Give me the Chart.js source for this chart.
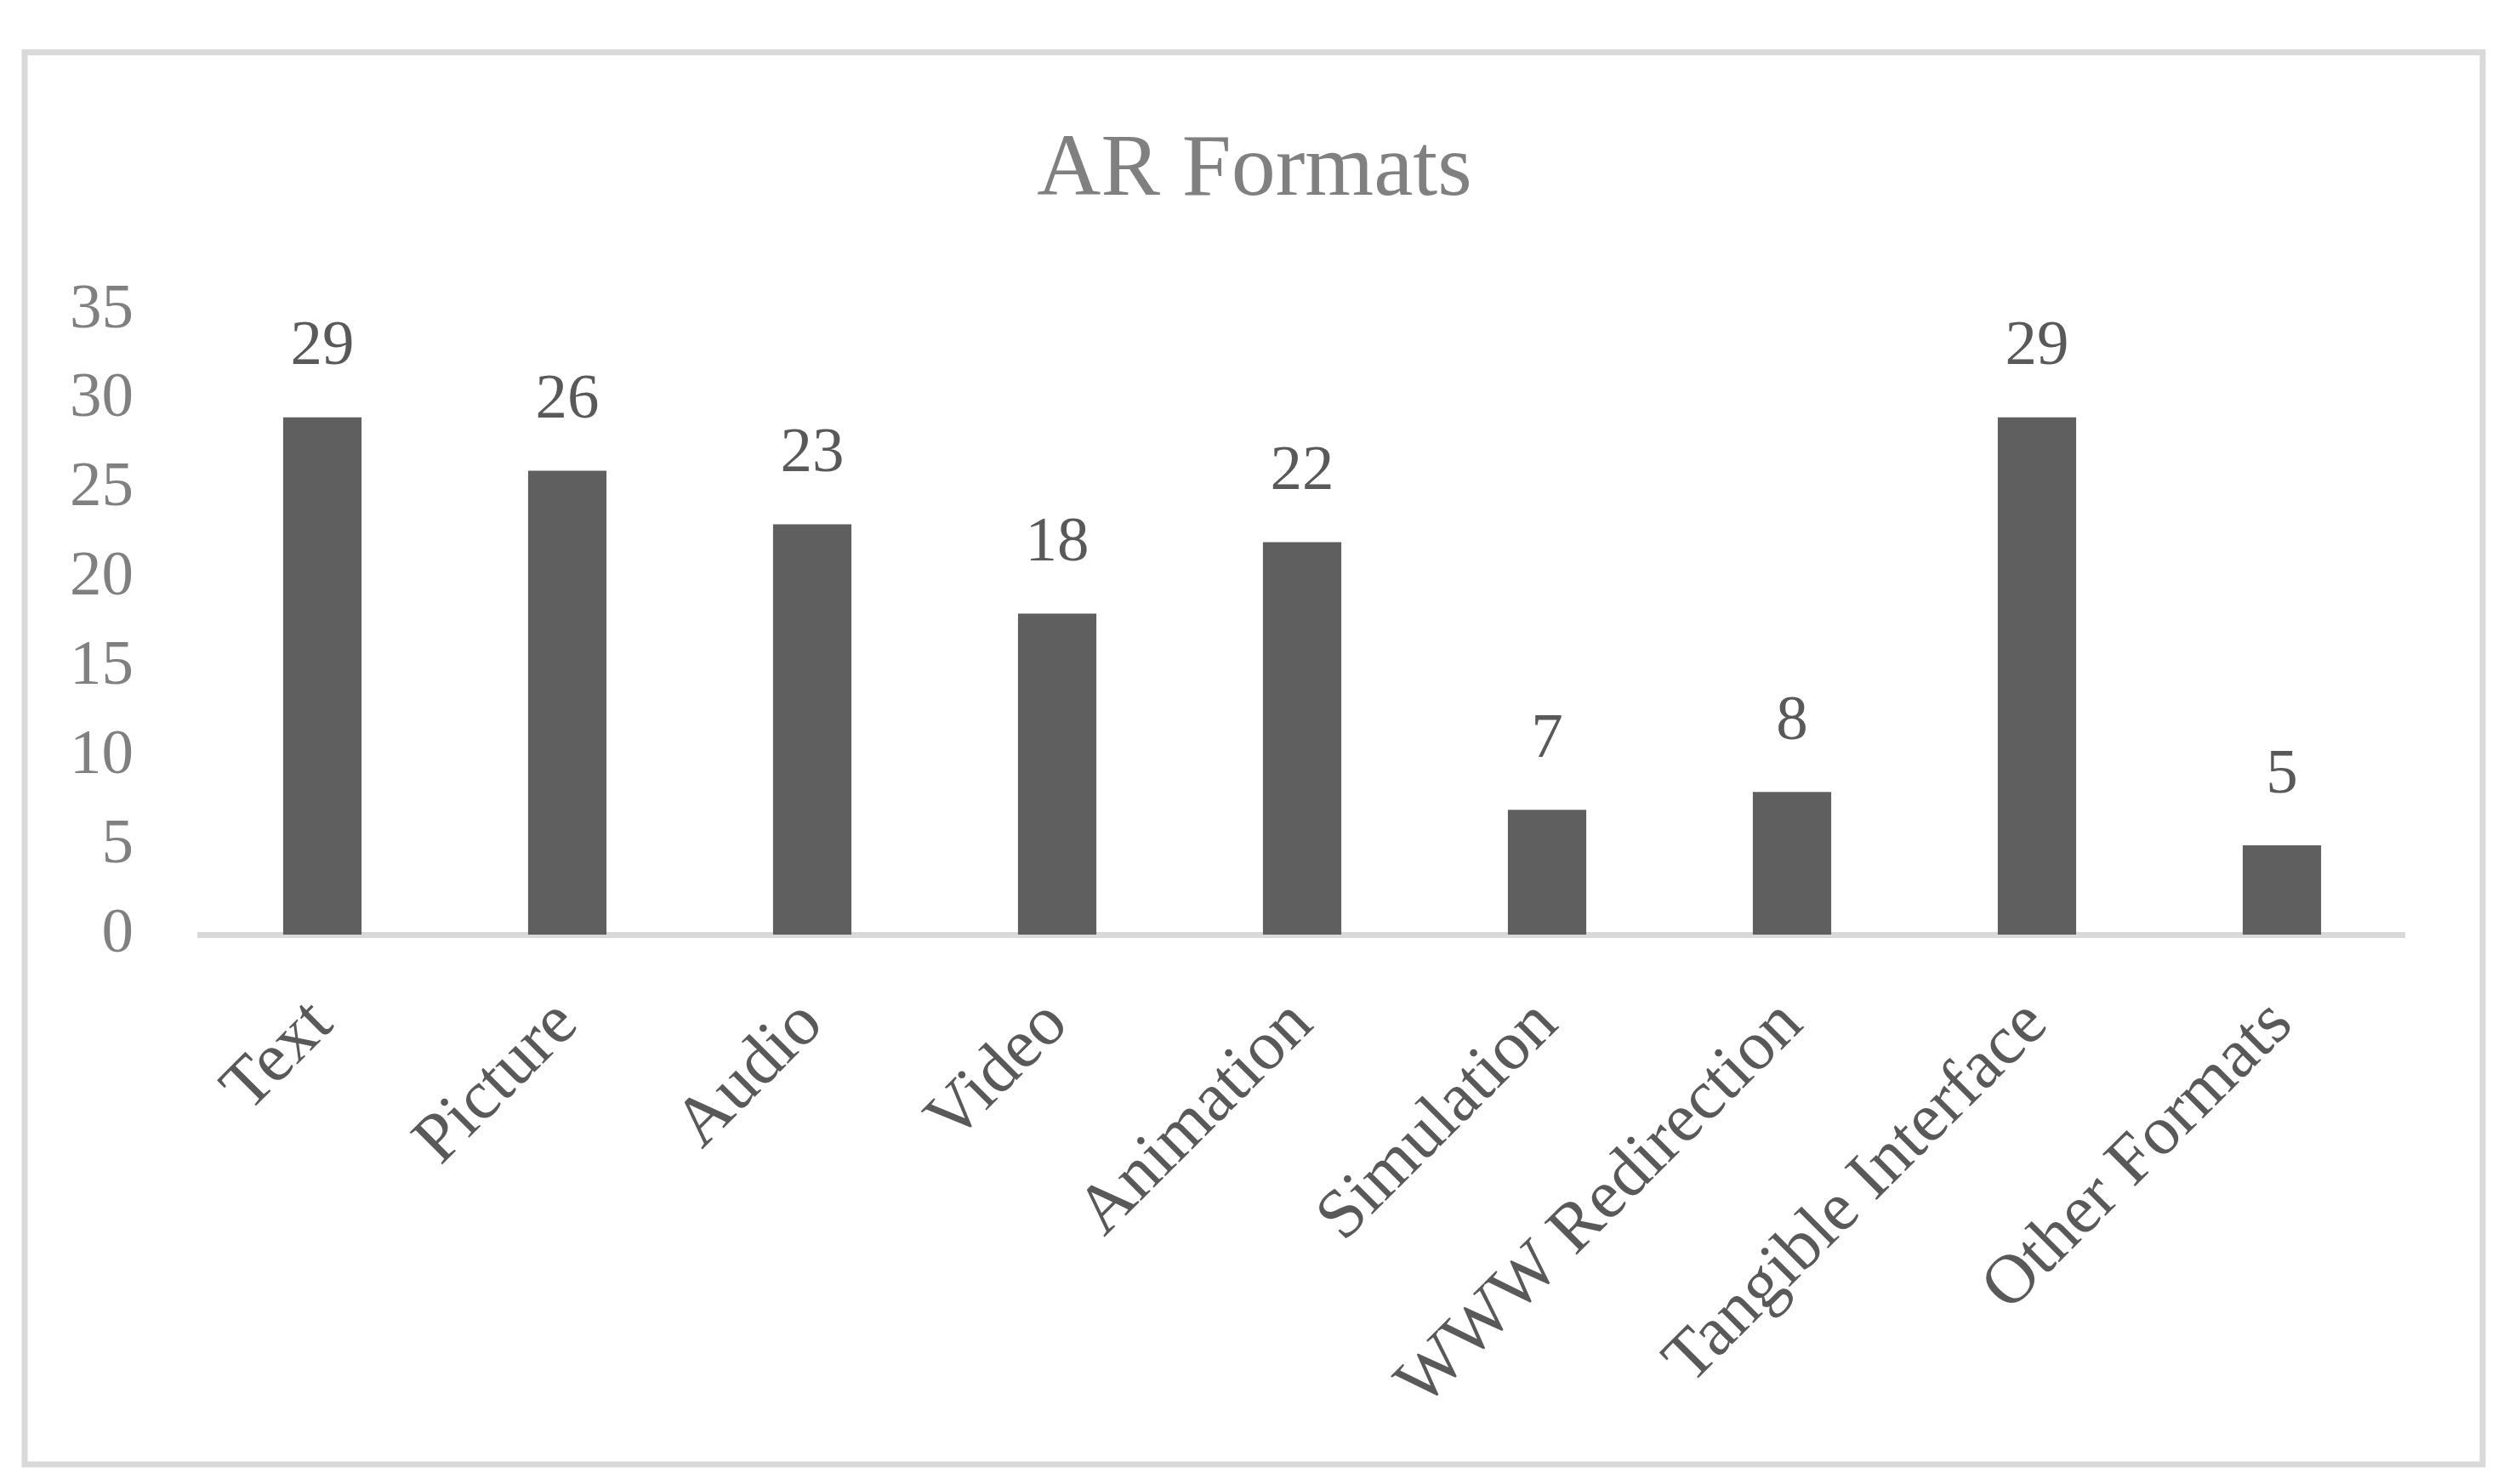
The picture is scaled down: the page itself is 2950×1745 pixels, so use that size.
<!DOCTYPE html>
<html>
<head>
<meta charset="utf-8">
<script src="https://cdn.jsdelivr.net/npm/chart.js@4/dist/chart.umd.min.js"></script>
<style>
  html, body { margin: 0; padding: 0; background: #fff; }
  #wrap { width: 2950px; height: 1745px; position: relative; }
</style>
</head>
<body>
<div id="wrap"><canvas id="barChart" width="2950" height="1745"></canvas></div>
<script>
// chart data
const chartTitle = 'AR Formats';
const categories = ['Text', 'Picture', 'Audio', 'Video', 'Animation', 'Simulation',
  'WWW Redirection', 'Tangible Interface', 'Other Formats'];
const counts = [29, 26, 23, 18, 22, 7, 8, 29, 5];
const yTicks = [0, 5, 10, 15, 20, 25, 30, 35];

const serif = "'Liberation Serif', 'DejaVu Serif', serif";

// light grey frame round the whole chart
const framePlugin = {
  id: 'frame',
  beforeDraw(chart) {
    const ctx = chart.ctx;
    ctx.save();
    ctx.strokeStyle = '#d9d9d9';
    ctx.lineWidth = 7;
    ctx.strokeRect(29, 61.5, 2890, 1660.5);
    ctx.restore();
  }
};

// value labels above each bar
const valueLabels = {
  id: 'valueLabels',
  afterDatasetsDraw(chart) {
    const ctx = chart.ctx;
    const meta = chart.getDatasetMeta(0);
    ctx.save();
    ctx.font = '75px ' + serif;
    ctx.fillStyle = '#595959';
    ctx.textAlign = 'center';
    ctx.textBaseline = 'middle';
    meta.data.forEach((bar, i) => {
      ctx.fillText(String(chart.data.datasets[0].data[i]), bar.x, bar.y - 82);
    });
    ctx.restore();
  }
};

new Chart(document.getElementById('barChart'), {
  type: 'bar',
  data: {
    labels: categories,
    datasets: [{
      data: counts,
      backgroundColor: '#5f5f5f',
      borderWidth: 0,
      categoryPercentage: 1,
      barPercentage: 0.32
    }]
  },
  options: {
    responsive: false,
    animation: false,
    devicePixelRatio: 1,
    layout: { padding: 0 },
    plugins: {
      legend: { display: false },
      tooltip: { enabled: false },
      title: {
        display: true,
        text: chartTitle,
        color: '#808080',
        font: { family: serif, size: 104, weight: 'normal', lineHeight: 1.2 },
        padding: { top: 139, bottom: 101 }
      }
    },
    scales: {
      x: {
        grid: { display: false, drawTicks: false },
        border: { display: true, color: '#d9d9d9', width: 7 },
        ticks: {
          color: '#595959',
          font: { family: serif, size: 82 },
          minRotation: 45,
          maxRotation: 45,
          autoSkip: false,
          padding: 58
        },
        afterFit(scale) { scale.height = 646; }
      },
      y: {
        min: 0,
        max: 35,
        grid: { display: false, drawTicks: false },
        border: { display: false },
        afterBuildTicks(scale) { scale.ticks = yTicks.map(v => ({ value: v })); },
        ticks: {
          color: '#808080',
          font: { family: serif, size: 75 },
          padding: 78
        },
        afterFit(scale) { scale.width = 235; }
      },
      // empty right-hand axis, only reserves the margin so the title stays centred
      yRight: {
        position: 'right',
        min: 0,
        max: 35,
        grid: { display: false, drawTicks: false },
        border: { display: false },
        ticks: { display: false },
        afterFit(scale) { scale.width = 123; }
      }
    }
  },
  plugins: [framePlugin, valueLabels]
});
</script>
</body>
</html>
